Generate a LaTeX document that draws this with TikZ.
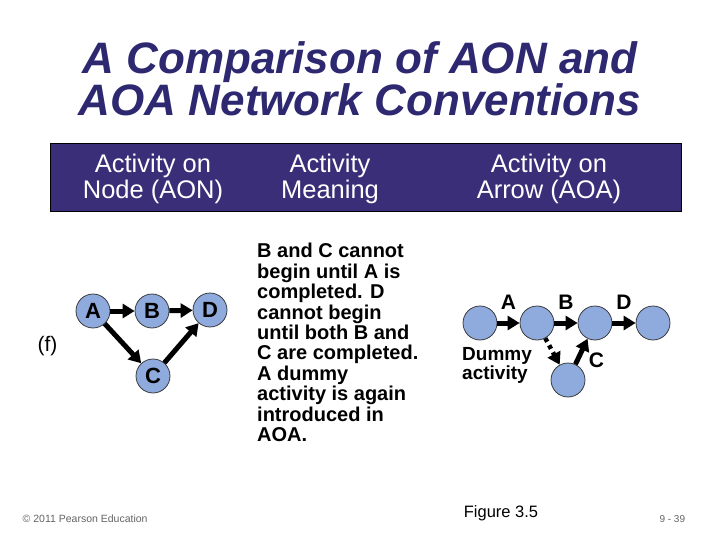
\documentclass[tikz,border=0pt]{standalone}
\usepackage{fontspec}
\setmainfont{Liberation Sans}
\usepackage{tikz}
\usetikzlibrary{arrows.meta}
\definecolor{titleblue}{RGB}{45,40,112}
\definecolor{barpurple}{RGB}{58,46,120}
\definecolor{eventblue}{RGB}{143,170,220}
\definecolor{footgray}{RGB}{100,100,100}
\newcommand{\fs}[2]{\fontsize{#1}{#2}\selectfont}
\tikzstyle{every picture}=[>={Triangle[length=12pt,width=14pt]}]
\tikzstyle{event}=[circle,draw=black!80,line width=0.75pt,fill=eventblue,minimum size=34pt,inner sep=0pt,font=\fs{22}{24}\bfseries]
\tikzstyle{activity}=[->,line width=5pt]
\tikzstyle{dummy}=[->,line width=4.5pt,dash pattern=on 4pt off 4pt]
\tikzstyle{heading}=[anchor=north,inner sep=0pt,align=center,text=white,font=\fs{25.5}{26.6}]
\tikzstyle{arclabel}=[anchor=base,inner sep=0pt,font=\fs{21}{24}\bfseries]

\begin{document}
\begin{tikzpicture}[x=1pt,y=-1pt]
    \useasboundingbox (0,0) rectangle (720,540);
    \fill[white] (0,0) rectangle (720,540);
    \node[anchor=north,inner sep=0pt,align=center,text=titleblue,font=\fs{44}{40.6}\bfseries\itshape] (title) at (360,41.5) {A Comparison of AON and\\AOA Network Conventions};
    \node[draw=black,line width=0.75pt,fill=barpurple,minimum width=631pt,minimum height=68pt,inner sep=0pt] (bar) at (365.5,177) {};
    \node[heading] (aonhead) at (153,153.6) {Activity on\\Node (AON)};
    \node[heading] (meaninghead) at (330,153.6) {Activity\\Meaning};
    \node[heading] (aoahead) at (549,153.6) {Activity on\\Arrow (AOA)};
    % activity on node
    \node[anchor=base,inner sep=0pt,font=\fs{21}{24}] (case) at (47.5,351) {(f)};
    \node[event] (aonA) at (93,311) {A};
    \node[event] (aonB) at (152,311) {B};
    \node[event] (aonD) at (210,310) {D};
    \node[event] (aonC) at (153,376) {C};
    \draw[activity] (aonA) to (aonB);
    \draw[activity] (aonB) to (aonD);
    \draw[activity] (aonA) to (aonC);
    \draw[activity] (aonC) to (aonD);
    % meaning
    \node[anchor=north west,inner sep=0pt,align=left,font=\fs{20}{20.4}\bfseries] (meaning) at (257,243.2) {B and C cannot\\begin until A is\\completed. D\\cannot begin\\until both B and\\C are completed.\\A dummy\\activity is again\\introduced in\\AOA.};
    % activity on arrow
    \node[event] (aoaStart) at (480,323) {};
    \node[event] (aoaA) at (537,323) {};
    \node[event] (aoaB) at (595,323) {};
    \node[event] (aoaEnd) at (653,323) {};
    \node[event] (aoaC) at (568,380) {};
    \draw[activity] (aoaStart) to (aoaA);
    \draw[activity] (aoaA) to (aoaB);
    \draw[activity] (aoaB) to (aoaEnd);
    \draw[dummy] (aoaA) to (aoaC);
    \draw[activity] (aoaC) to (aoaB);
    \node[arclabel] (labA) at (508.5,309.5) {A};
    \node[arclabel] (labB) at (566,309.5) {B};
    \node[arclabel] (labD) at (624,309.5) {D};
    \node[arclabel] (labC) at (596.5,367) {C};
    \node[anchor=north west,inner sep=0pt,align=left,font=\fs{19}{19.5}\bfseries] (dummylab) at (462,347) {Dummy\\activity};
    % footer
    \node[anchor=base west,inner sep=0pt,font=\fs{10.5}{12},text=footgray] (copyright) at (22.5,522.3) {© 2011 Pearson Education};
    \node[anchor=base,inner sep=0pt,font=\fs{16.5}{18}] (figure) at (501,517.3) {Figure 3.5};
    \node[anchor=base west,inner sep=0pt,font=\fs{10}{12},text=footgray] (pageno) at (659.3,522.3) {9 - 39};
\end{tikzpicture}
\end{document}
